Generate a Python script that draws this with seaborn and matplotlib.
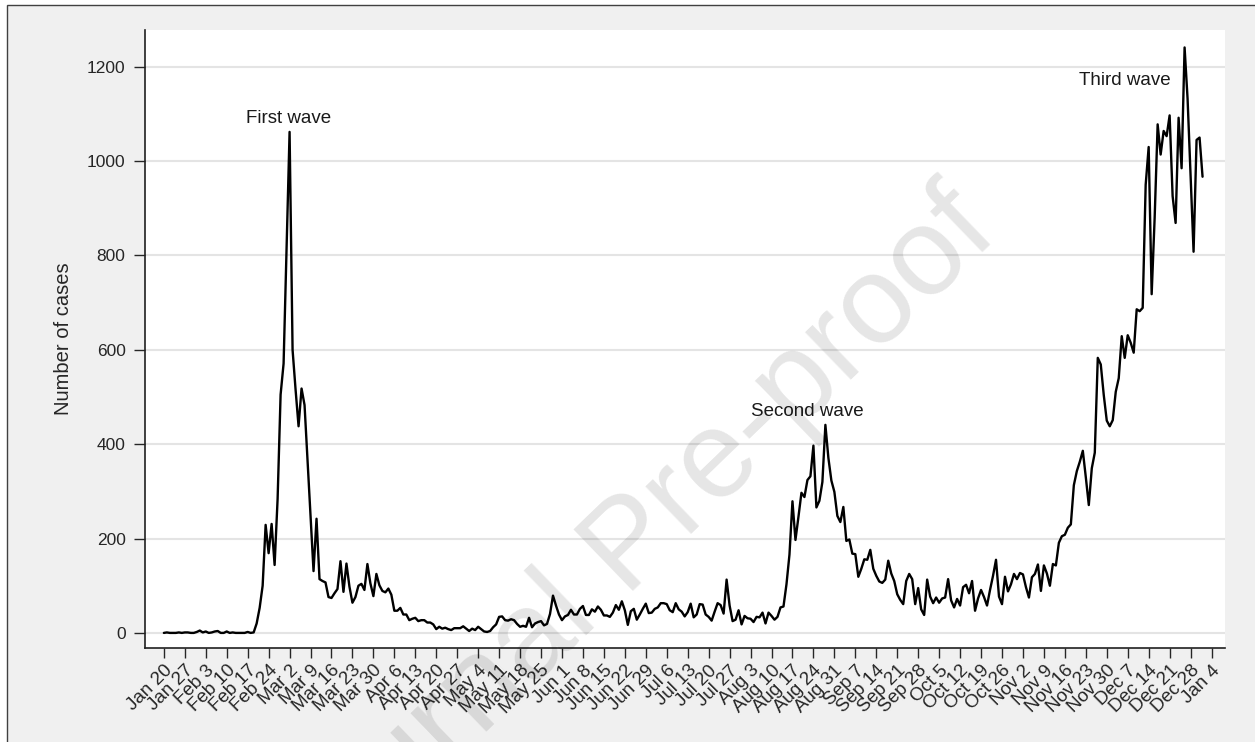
import pandas as pd
import seaborn as sns
import matplotlib.pyplot as plt
from matplotlib.patches import Rectangle

# Daily confirmed cases, Jan 20 2020 - Jan 1 2021 (one list per month)
jan = [0, 1, 0, 0, 0, 1, 0, 1, 1, 0, 0, 2]
feb = [5, 1, 3, 0, 1, 3, 4, 0, 0, 3, 0, 1, 0, 0, 0, 0, 2, 0, 1, 20,
       53, 100, 229, 169, 231, 144, 284, 505, 571]
mar = [813, 1062, 600, 516, 438, 518, 483, 367, 248, 131, 242, 114, 110, 107, 76, 74,
       84, 93, 152, 87, 147, 98, 64, 76, 100, 104, 91, 146, 105, 78, 125]
apr = [101, 89, 86, 94, 81, 47, 47, 53, 39, 39, 27, 30, 32, 25, 27, 27, 22, 22, 18, 8,
       13, 9, 11, 8, 6, 10, 10, 10, 14, 9]
may = [4, 9, 6, 13, 8, 3, 2, 4, 12, 18, 34, 35, 27, 26, 29, 27, 19, 13, 15, 13, 32,
       12, 20, 23, 25, 16, 19, 40, 79, 58, 39]
jun = [27, 35, 38, 49, 39, 39, 51, 57, 38, 38, 50, 45, 56, 49, 37, 37, 34, 43, 59, 49,
       67, 48, 17, 46, 51, 28, 39, 51, 62, 42]
jul = [43, 51, 54, 63, 63, 61, 48, 44, 63, 50, 45, 35, 44, 62, 33, 39, 61, 60, 39, 34,
       26, 45, 63, 59, 41, 113, 58, 25, 28, 48, 18]
aug = [36, 31, 30, 23, 34, 33, 43, 20, 43, 36, 28, 34, 54, 56, 103, 166, 279, 197, 246,
       297, 288, 324, 332, 397, 266, 280, 320, 441, 371, 323, 299]
sep = [248, 235, 267, 195, 198, 168, 167, 119, 136, 156, 155, 176, 136, 121, 109, 106,
       113, 153, 126, 110, 82, 70, 61, 110, 125, 114, 61, 95, 50, 38]
oct_ = [113, 77, 63, 75, 64, 73, 75, 114, 69, 54, 72, 58, 97, 102, 84, 110, 47, 73, 91,
        76, 58, 91, 121, 155, 77, 61, 119, 88, 103, 125, 114]
nov = [127, 124, 97, 75, 118, 125, 145, 89, 143, 126, 100, 146, 143, 191, 205, 208, 223,
       230, 313, 343, 363, 386, 330, 271, 349, 382, 583, 569, 504, 450]
dec = [438, 451, 511, 540, 629, 583, 631, 615, 594, 686, 682, 689, 950, 1030, 718, 880,
       1078, 1014, 1064, 1053, 1097, 926, 869, 1092, 985, 1241, 1132, 970, 808, 1045, 1050]
jan21 = [967]

cases = jan + feb + mar + apr + may + jun + jul + aug + sep + oct_ + nov + dec + jan21
dates = pd.date_range('2020-01-20', periods=len(cases), freq='D')
df = pd.DataFrame({'date': dates, 'cases': cases})

tick_dates = pd.date_range('2020-01-20', '2021-01-04', freq='7D')
tick_labels = ['Jan 20', 'Jan 27', 'Feb 3', 'Feb 10', 'Feb 17', 'Feb 24', 'Mar 2', 'Mar 9',
               'Mar 16', 'Mar 23', 'Mar 30', 'Apr 6', 'Apr 13', 'Apr 20', 'Apr 27', 'May 4',
               'May 11', 'May 18', 'May 25', 'Jun 1', 'Jun 8', 'Jun 15', 'Jun 22', 'Jun 29',
               'Jul 6', 'Jul 13', 'Jul 20', 'Jul 27', 'Aug 3', 'Aug 10', 'Aug 17', 'Aug 24',
               'Aug 31', 'Sep 7', 'Sep 14', 'Sep 21', 'Sep 28', 'Oct 5', 'Oct 12', 'Oct 19',
               'Oct 26', 'Nov 2', 'Nov 9', 'Nov 16', 'Nov 23', 'Nov 30', 'Dec 7', 'Dec 14',
               'Dec 21', 'Dec 28', 'Jan 4']
y_ticks = [0, 200, 400, 600, 800, 1000, 1200]

sns.set_style('white')
plt.rcParams['font.family'] = ['Liberation Sans', 'DejaVu Sans']

fig = plt.figure(figsize=(12.55, 7.42), dpi=100)
fig.patch.set_facecolor('white')
# grey page behind the graph, with the page border at top and left
fig.patches.append(Rectangle((7 / 1255, -0.01), 1.0, 1 - 5 / 742 + 0.01,
                             transform=fig.transFigure, facecolor='#f0f0f0',
                             edgecolor='#404040', lw=1.0, zorder=-5))

ax = fig.add_axes([145 / 1255, 94 / 742, 1080 / 1255, 618 / 742])
ax.set_facecolor('white')

# Draw the series
sns.lineplot(data=df, x='date', y='cases', color='black', lw=1.7, ax=ax)

start = pd.Timestamp('2020-01-20')
ax.set_xlim(start - pd.Timedelta(days=6.3), start + pd.Timedelta(days=354.5))
ax.set_ylim(-32, 1278)

ax.set_yticks(y_ticks)
ax.set_yticklabels([str(v) for v in y_ticks], fontsize=12.5)
ax.set_xticks(tick_dates)
ax.set_xticklabels(tick_labels, rotation=45, ha='right', rotation_mode='anchor', fontsize=13.5)
ax.tick_params(axis='y', length=8, width=1, pad=6, direction='out', left=True)
ax.tick_params(axis='x', length=7, width=1, pad=3, direction='out', bottom=True)

ax.grid(axis='y', color='#e4e4e4', lw=1.5)
ax.set_axisbelow(True)
sns.despine(ax=ax)
for side in ['left', 'bottom']:
    ax.spines[side].set_color('#202020')
    ax.spines[side].set_linewidth(1.2)

ax.set_xlabel('')
ax.set_ylabel('Number of cases', fontsize=14.5, labelpad=10)

# Wave labels
ax.text(pd.Timestamp('2020-03-01 12:00'), 1072, 'First wave', ha='center', va='bottom', fontsize=13.5, color='#1a1a1a')
ax.text(pd.Timestamp('2020-08-22'), 452, 'Second wave', ha='center', va='bottom', fontsize=13.5, color='#1a1a1a')
ax.text(pd.Timestamp('2020-12-06'), 1152, 'Third wave', ha='center', va='bottom', fontsize=13.5, color='#1a1a1a')

# Journal watermark
fig.text(0.503, 0.262, 'Journal Pre-proof', rotation=44, ha='center', va='center',
         fontsize=90, color='black', alpha=0.1, zorder=10)

fig.savefig('out.png', dpi=100)
